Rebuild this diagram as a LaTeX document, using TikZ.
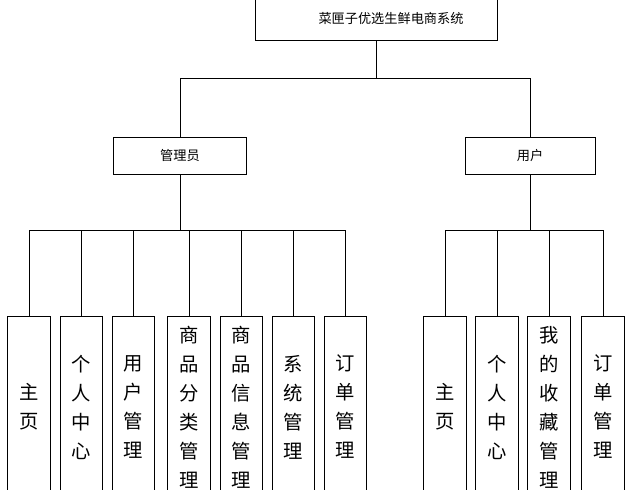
\documentclass[tikz,border=0pt]{standalone}
\usepackage{fontspec}
\setmainfont{Noto Sans CJK SC}

\begin{document}
\begin{tikzpicture}[x=0.04cm, y=-0.04cm]
\tikzset{
    box/.style={rectangle, draw, line width=0.6pt, inner sep=0pt},
    head/.style={box, minimum height=1.48cm, font=\fontsize{15}{17}\selectfont},
    leaf/.style={box, minimum width=1.7cm, minimum height=7.28cm, align=center, font=\fontsize{22}{33}\selectfont}
}
  \useasboundingbox (0,0) rectangle (629,490);
  \clip (0,0) rectangle (629,490);

  \node[head, minimum width=9.68cm, minimum height=1.8cm] (sys) at (376,18) {\hspace*{1.2cm}菜匣子优选生鲜电商系统};
  \node[head, minimum width=5.32cm] (admin) at (180,155.5) {管理员};
  \node[head, minimum width=5.2cm] (user) at (530,155.5) {用户};

  \draw (sys.south) -- (sys.south |- 0,78) -| (admin.north);
  \draw (sys.south) -- (sys.south |- 0,78) -| (user.north);

  % admin leaves
  \foreach \i/\x/\t in {1/29/主\\页, 2/81.5/个\\人\\中\\心, 3/133.5/用\\户\\管\\理, 4/189/商\\品\\分\\类\\管\\理,
                        5/241.5/商\\品\\信\\息\\管\\理, 6/293.5/系\\统\\管\\理, 7/345.5/订\\单\\管\\理} {
    \node[leaf] (a\i) at (\x,407) {\t};
    \draw (admin.south) -- (admin.south |- 0,230) -| (a\i.north);
  }

  % user leaves
  \foreach \i/\x/\t in {1/445/主\\页, 2/497/个\\人\\中\\心, 3/549/我\\的\\收\\藏\\管\\理, 4/603/订\\单\\管\\理} {
    \node[leaf] (u\i) at (\x,407) {\t};
    \draw (user.south) -- (user.south |- 0,230) -| (u\i.north);
  }
\end{tikzpicture}
\end{document}
